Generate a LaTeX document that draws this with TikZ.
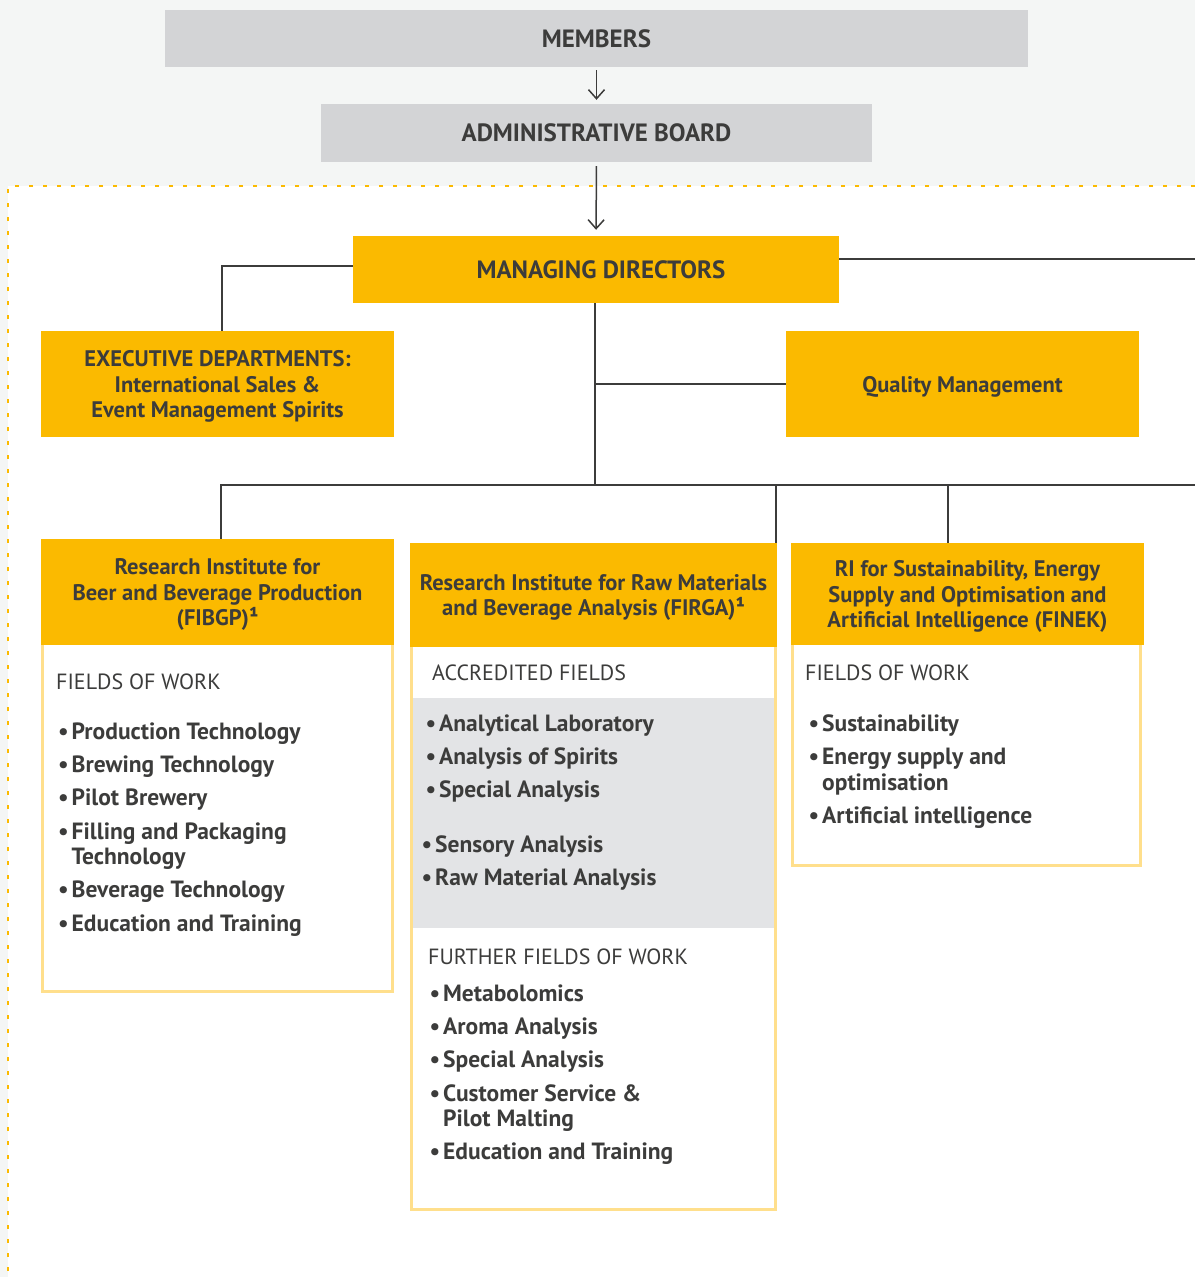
\documentclass[tikz,border=0pt]{standalone}
\usepackage{fontspec}
\setmainfont{PT Sans}
\usetikzlibrary{arrows.meta,calc}
\definecolor{ylw}{HTML}{FBBA00}
\definecolor{gbox}{HTML}{D3D4D6}
\definecolor{bg}{HTML}{F4F6F5}
\definecolor{txt}{HTML}{3C3C3B}
\definecolor{bord}{HTML}{FFDF8C}
\definecolor{acc}{HTML}{E3E4E6}
\newcommand\blt{\makebox[13.5pt][l]{\textbullet}}
\begin{document}
\begin{tikzpicture}[x=1pt,y=-1pt,
  topbox/.style={fill=gbox, inner sep=0pt, text=txt, font=\fontsize{25}{28}\selectfont\bfseries},
  ybox/.style={fill=ylw, inner sep=0pt, text=txt, align=center, text depth=0pt, font=\fontsize{22.5}{25.5}\selectfont\bfseries},
  body/.style={draw=bord, line width=3pt, fill=white, inner sep=0pt},
  conn/.style={draw=txt, line width=2pt},
  arr/.style={draw=txt, line width=1.5pt, -{Straight Barb[length=9pt,width=16pt]}},
  hd/.style={anchor=base west, inner sep=0pt, text=txt, font=\fontsize{22}{25}\selectfont},
  itm/.style={anchor=base west, inner sep=0pt, text=txt, font=\fontsize{23.5}{25}\selectfont\bfseries},
]
\useasboundingbox (0,0) rectangle (1195,1277);
% backgrounds
\fill[bg] (0,0) rectangle (1195,1277);
\fill[white] (8,186) rectangle (1195,1277);
\draw[ylw, line width=2.6pt, dash pattern=on 4pt off 10pt] (1195,186) -- (8,186) -- (8,1277);

% top boxes
\node[topbox, minimum width=863pt, minimum height=57pt] (mem) at (596.5,38.5) {MEMBERS};
\node[topbox, minimum width=551pt, minimum height=58pt] (adm) at (596.5,133) {ADMINISTRATIVE BOARD};
\node[ybox, minimum width=486pt, minimum height=67pt, font=\fontsize{25}{28}\selectfont\bfseries] (md) at (596,269.5) {\hspace*{10pt}MANAGING DIRECTORS};
\node[ybox, minimum width=353pt, minimum height=106pt] (exec) at (217.5,384) {EXECUTIVE DEPARTMENTS:\\International Sales \&\\Event Management Spirits};
\node[ybox, minimum width=353pt, minimum height=106pt] (qm) at (962.5,384) {Quality Management};

% bodies
\node[body, minimum width=350pt, minimum height=351.5pt] (b1) at (217.5,815.75) {};
\node[body, minimum width=364pt, minimum height=569.5pt] (b2) at (593.5,924.75) {};
\node[fill=acc, inner sep=0pt, minimum width=361pt, minimum height=230pt] (acc) at (593.5,813) {};
\node[body, minimum width=348pt, minimum height=225.5pt] (b3) at (966.5,752.75) {};

% institute headers
\node[ybox, minimum width=353pt, minimum height=106pt] (fibgp) at (217.5,592) {Research Institute for\\Beer and Beverage Production\\(FIBGP)¹};
\node[ybox, minimum width=367pt, minimum height=104pt] (firga) at (593.5,595) {Research Institute for Raw Materials\\and Beverage Analysis (FIRGA)¹};
\node[ybox, minimum width=353pt, minimum height=102pt] (finek) at (967.5,594) {RI for Sustainability, Energy\\Supply and Optimisation and\\Artificial Intelligence (FINEK)};

% connectors
\coordinate (r1) at (1195,259);
\coordinate (r2) at (1195,485);
\draw[arr, shorten <=3pt, shorten >=4pt] (mem.south) -- (adm.north);
\draw[arr, shorten <=4pt, shorten >=6pt] (adm.south) -- (md.north);
\draw[conn] ([yshift=3.5pt]md.west) -| ([xshift=4.5pt]exec.north);
\draw[conn] ([yshift=10.5pt]md.east) -- (r1);
\draw[conn] ([xshift=-1pt]md.south) -- ([xshift=-1pt]md.south |- r2);
\draw[conn] ([xshift=-1pt]md.south |- qm.west) -- (qm.west);
\draw[conn] ([xshift=3.5pt]fibgp.north) |- (r2);
\draw[conn] ([xshift=-1.5pt]firga.north east) -- ([xshift=-1.5pt]firga.north east |- r2);
\draw[conn] ([xshift=-19.5pt]finek.north) -- ([xshift=-19.5pt]finek.north |- r2);

% FIBGP body
\node[hd] (h1) at (56,689) {FIELDS OF WORK};
\node[itm] (i11) at (58,739) {\blt Production Technology};
\node[itm] (i12) at (58,772.5) {\blt Brewing Technology};
\node[itm] (i13) at (58,805.5) {\blt Pilot Brewery};
\node[itm] (i14) at (58,839) {\blt Filling and Packaging};
\node[itm] (i14b) at (71.5,864) {Technology};
\node[itm] (i15) at (58,897.5) {\blt Beverage Technology};
\node[itm] (i16) at (58,931.5) {\blt Education and Training};

% FIRGA body
\node[hd] (h2) at (432,680) {ACCREDITED FIELDS};
\node[itm] (i21) at (425.5,731) {\blt Analytical Laboratory};
\node[itm] (i22) at (425.5,764.5) {\blt Analysis of Spirits};
\node[itm] (i23) at (425.5,797.5) {\blt Special Analysis};
\node[itm] (i24) at (421.5,852) {\blt Sensory Analysis};
\node[itm] (i25) at (421.5,885) {\blt Raw Material Analysis};
\node[hd] (h3) at (428,964) {FURTHER FIELDS OF WORK};
\node[itm] (i31) at (429.5,1001) {\blt Metabolomics};
\node[itm] (i32) at (429.5,1034.5) {\blt Aroma Analysis};
\node[itm] (i33) at (429.5,1067) {\blt Special Analysis};
\node[itm] (i34) at (429.5,1101) {\blt Customer Service \&};
\node[itm] (i34b) at (443,1126) {Pilot Malting};
\node[itm] (i35) at (429.5,1159) {\blt Education and Training};

% FINEK body
\node[hd] (h4) at (805,680) {FIELDS OF WORK};
\node[itm] (i41) at (808.5,731) {\blt Sustainability};
\node[itm] (i42) at (808.5,764.5) {\blt Energy supply and};
\node[itm] (i42b) at (822,790) {optimisation};
\node[itm] (i43) at (808.5,823) {\blt Artificial intelligence};
\end{tikzpicture}
\end{document}
